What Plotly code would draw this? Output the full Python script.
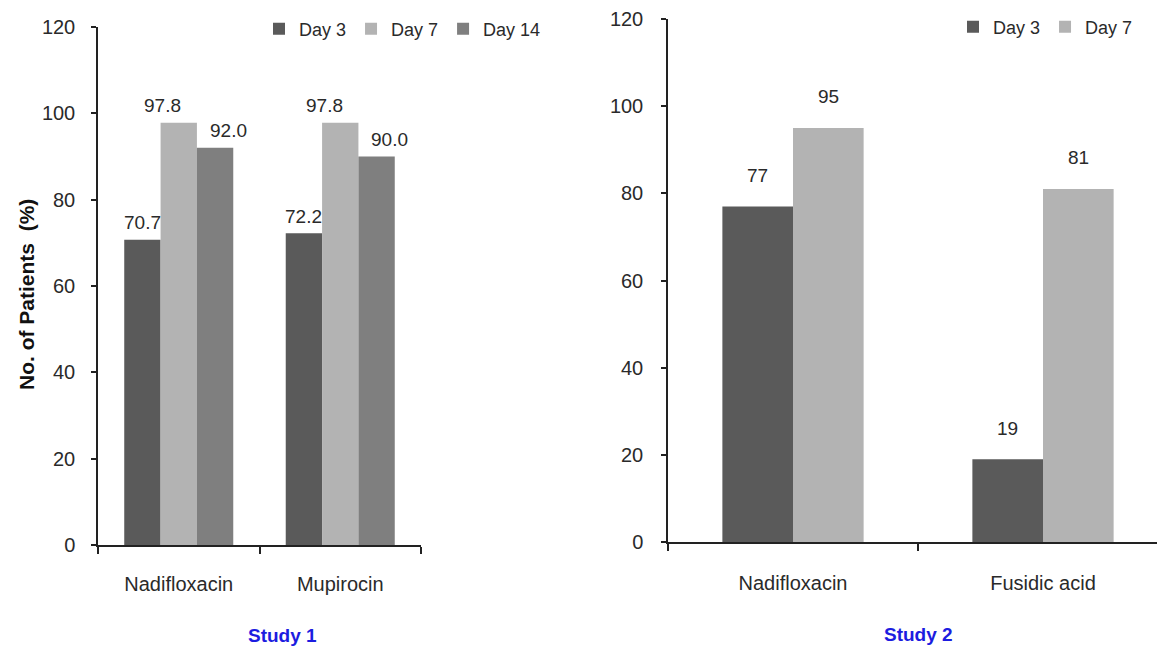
import plotly.graph_objects as go

# Study 1: three time points, two treatments
study1_drugs = ["Nadifloxacin", "Mupirocin"]
study1_day3 = [70.7, 72.2]
study1_day7 = [97.8, 97.8]
study1_day14 = [92.0, 90.0]

# Study 2: two time points, two treatments
study2_drugs = ["Nadifloxacin", "Fusidic acid"]
study2_day3 = [77, 19]
study2_day7 = [95, 81]

y_ticks = [0, 20, 40, 60, 80, 100, 120]

DARK = "#5a5a5a"
LIGHT = "#b3b3b3"
MID = "#7f7f7f"
FONT = "Liberation Sans, Arial, sans-serif"
TXT = "#2a2a2a"
BLUE = "#1c1ce0"

W, H = 1157, 648

# group widths (fraction of a category slot)
G1 = 0.675
G2 = 0.565
bw1 = G1 / 3
bw2 = G2 / 2

fig = go.Figure()

# Study 1 bars (grouped)
for name, vals, color in [("Day 3", study1_day3, DARK),
                          ("Day 7", study1_day7, LIGHT),
                          ("Day 14", study1_day14, MID)]:
    fig.add_trace(go.Bar(name=name, x=study1_drugs, y=vals,
                         marker=dict(color=color, line=dict(width=0)),
                         xaxis="x", yaxis="y", legend="legend"))

# Study 2 bars (explicit width/offset)
for k, (name, vals, color) in enumerate([("Day 3", study2_day3, DARK),
                                         ("Day 7", study2_day7, LIGHT)]):
    fig.add_trace(go.Bar(name=name, x=study2_drugs, y=vals, width=bw2,
                         offset=-bw2 + k * bw2,
                         marker=dict(color=color, line=dict(width=0)),
                         xaxis="x2", yaxis="y2", legend="legend2"))

# value labels above bars
annotations = []
label_font = dict(family=FONT, size=19, color=TXT)
s1 = [(study1_day3, -bw1, 0), (study1_day7, 0.0, -16), (study1_day14, bw1, 13)]
for vals, off, nudge in s1:
    for i, v in enumerate(vals):
        annotations.append(dict(x=i + off, y=v, xref="x", yref="y",
                                text=f"{v:.1f}", showarrow=False,
                                xshift=nudge, yshift=17, font=label_font))
s2 = [(study2_day3, -bw2 / 2), (study2_day7, bw2 / 2)]
for vals, off in s2:
    for i, v in enumerate(vals):
        annotations.append(dict(x=i + off, y=v, xref="x2", yref="y2",
                                text=f"{v:.0f}", showarrow=False,
                                yshift=31, font=label_font))

# y-axis title and panel captions
annotations += [
    dict(text="<b>No. of Patients  (%)</b>", x=26 / W, y=1 - 295 / H,
         xref="paper", yref="paper", xanchor="center", yanchor="middle",
         textangle=-90, showarrow=False,
         font=dict(family=FONT, size=21, color="#111")),
    dict(text="<b>Study 1</b>", x=282 / W, y=1 - 635 / H, xref="paper",
         yref="paper", xanchor="center", yanchor="middle", showarrow=False,
         font=dict(family=FONT, size=19, color=BLUE)),
    dict(text="<b>Study 2</b>", x=918 / W, y=1 - 634 / H, xref="paper",
         yref="paper", xanchor="center", yanchor="middle", showarrow=False,
         font=dict(family=FONT, size=19, color=BLUE)),
]

axis_common = dict(showline=True, linecolor="#222", linewidth=1.5,
                   showgrid=False, zeroline=False, ticks="outside",
                   tickcolor="#222", tickwidth=1.5, automargin=False,
                   tickfont=dict(family=FONT, size=20, color=TXT))

fig.update_layout(
    width=W, height=H,
    margin=dict(l=0, r=0, t=0, b=0),
    paper_bgcolor="white", plot_bgcolor="white",
    barmode="group", bargap=1 - G1, bargroupgap=0,
    showlegend=True,
    xaxis=dict(domain=[98 / W, 421 / W], anchor="y", type="category",
               tickson="boundaries", ticklen=7, ticklabelstandoff=20,
               range=[-0.5, 1.5], **axis_common),
    yaxis=dict(domain=[1 - 545 / H, 1 - 27 / H], anchor="x", range=[0, 120],
               tickvals=y_ticks, ticklen=5, ticklabelstandoff=12,
               **axis_common),
    xaxis2=dict(domain=[668 / W, 1.0], anchor="y2", type="category",
                tickson="boundaries", ticklen=7, ticklabelstandoff=22,
                range=[-0.5, -0.5 + (W - 668) / 250], **axis_common),
    yaxis2=dict(domain=[1 - 542 / H, 1 - 19 / H], anchor="x2", range=[0, 120],
                tickvals=y_ticks, ticklen=5, ticklabelstandoff=14,
                **axis_common),
    legend=dict(orientation="h", x=259 / W, y=1 - 29 / H, xanchor="left",
                yanchor="middle", font=dict(family=FONT, size=18, color=TXT),
                bgcolor="rgba(0,0,0,0)", traceorder="normal"),
    legend2=dict(orientation="h", x=953 / W, y=1 - 27 / H, xanchor="left",
                 yanchor="middle", font=dict(family=FONT, size=18, color=TXT),
                 bgcolor="rgba(0,0,0,0)", traceorder="normal"),
    annotations=annotations,
)

fig.write_html("out.html")
